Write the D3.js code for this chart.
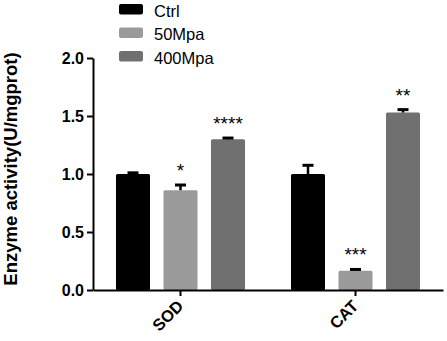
<!DOCTYPE html>
<html>
<head>
<meta charset="utf-8">
<script src="https://cdn.jsdelivr.net/npm/d3@7"></script>
<style>
  body { margin: 0; background: #fff; }
  text { font-family: "Liberation Sans", Arial, sans-serif; }
</style>
</head>
<body>
<div id="chart"></div>
<script>
const categories = ['SOD', 'CAT'];
const seriesNames = ['Ctrl', '50Mpa', '400Mpa'];
const seriesColors = ['#000000', '#9a9a9a', '#707070'];
const meanValues = [
  [1.00, 0.86, 1.30],
  [1.00, 0.165, 1.53]
];
const errorValues = [
  [0.01, 0.045, 0.01],
  [0.075, 0.012, 0.025]
];
const starLabels = [
  ['', '*', '****'],
  ['', '***', '**']
];
const yTicks = [0, 0.5, 1.0, 1.5, 2.0];

const width = 447, height = 341;
const margin = { top: 58, right: 4, bottom: 51, left: 93 };

const svg = d3.select('#chart').append('svg')
  .attr('width', width)
  .attr('height', height);

const yScale = d3.scaleLinear()
  .domain([0, 2])
  .range([height - margin.bottom, margin.top]);

const x0 = d3.scaleBand()
  .domain(categories)
  .range([margin.left, width - margin.right])
  .padding(0);

const x1 = d3.scaleBand()
  .domain(seriesNames)
  .range([0, x0.bandwidth()])
  .paddingInner(0.284)
  .paddingOuter(0.484);

// bars
const cells = [];
categories.forEach((c, i) => {
  seriesNames.forEach((s, j) => {
    cells.push({ cat: c, series: s, j: j, value: meanValues[i][j], err: errorValues[i][j], star: starLabels[i][j] });
  });
});

const chart = svg.append('g');

chart.selectAll('.bar')
  .data(cells)
  .join('rect')
  .attr('class', 'bar')
  .attr('x', d => x0(d.cat) + x1(d.series))
  .attr('y', d => yScale(d.value))
  .attr('width', x1.bandwidth())
  .attr('height', d => yScale(0) - yScale(d.value))
  .attr('rx', 1.5)
  .attr('fill', d => seriesColors[d.j]);

// error bars (upper only)
const cx = d => x0(d.cat) + x1(d.series) + x1.bandwidth() / 2;
chart.selectAll('.err')
  .data(cells)
  .join('line')
  .attr('class', 'err')
  .attr('x1', cx).attr('x2', cx)
  .attr('y1', d => yScale(d.value))
  .attr('y2', d => yScale(d.value + d.err))
  .attr('stroke', '#000')
  .attr('stroke-width', 2.5);

chart.selectAll('.cap')
  .data(cells)
  .join('line')
  .attr('class', 'cap')
  .attr('x1', d => cx(d) - 5.5).attr('x2', d => cx(d) + 5.5)
  .attr('y1', d => yScale(d.value + d.err))
  .attr('y2', d => yScale(d.value + d.err))
  .attr('stroke', '#000')
  .attr('stroke-width', 3);

// significance stars
chart.selectAll('.star')
  .data(cells.filter(d => d.star))
  .join('text')
  .attr('class', 'star')
  .attr('x', cx)
  .attr('y', d => yScale(d.value + d.err) - 8)
  .attr('text-anchor', 'middle')
  .attr('font-size', 19)
  .text(d => d.star);

// axes
const yAxis = d3.axisLeft(yScale)
  .tickValues(yTicks)
  .tickFormat(d3.format('.1f'))
  .tickSize(6)
  .tickSizeOuter(0)
  .tickPadding(3);

const yAxisGroup = svg.append('g')
  .attr('transform', `translate(${margin.left},0)`)
  .call(yAxis);
yAxisGroup.select('.domain').attr('stroke-width', 2);
yAxisGroup.selectAll('.tick line').attr('stroke-width', 2);
yAxisGroup.selectAll('text')
  .attr('font-size', 16)
  .attr('font-weight', 'bold')
  .attr('fill', '#000')
  .style('font-family', '"Liberation Sans", Arial, sans-serif');

const xAxis = d3.axisBottom(x0)
  .tickSize(6)
  .tickSizeOuter(0);

const xAxisGroup = svg.append('g')
  .attr('transform', `translate(0,${yScale(0)})`)
  .call(xAxis);
xAxisGroup.select('.domain').attr('stroke-width', 2);
xAxisGroup.selectAll('.tick line').attr('stroke-width', 2);
xAxisGroup.selectAll('text')
  .attr('font-size', 16.5)
  .attr('font-weight', 'bold')
  .attr('fill', '#000')
  .style('font-family', '"Liberation Sans", Arial, sans-serif')
  .attr('y', 0)
  .attr('x', 0)
  .attr('dy', 0)
  .attr('transform', 'translate(4,17) rotate(-45)')
  .style('text-anchor', 'end');

// y label
svg.append('text')
  .attr('transform', `translate(17,${(yScale(0) + yScale(2)) / 2 - 5}) rotate(-90)`)
  .attr('text-anchor', 'middle')
  .attr('font-size', 18.5)
  .attr('font-weight', 'bold')
  .text('Enzyme activity(U/mgprot)');

// legend
const legend = svg.append('g')
  .attr('transform', 'translate(119,4)');

const legendItem = legend.selectAll('.legend-item')
  .data(seriesNames)
  .join('g')
  .attr('class', 'legend-item')
  .attr('transform', (d, i) => `translate(0,${i * 23.5})`);

legendItem.append('rect')
  .attr('width', 24)
  .attr('height', 10.5)
  .attr('rx', 2)
  .attr('fill', (d, i) => seriesColors[i]);

legendItem.append('text')
  .attr('x', 35)
  .attr('y', 12.5)
  .attr('font-size', 16.5)
  .text(d => d);
</script>
</body>
</html>
